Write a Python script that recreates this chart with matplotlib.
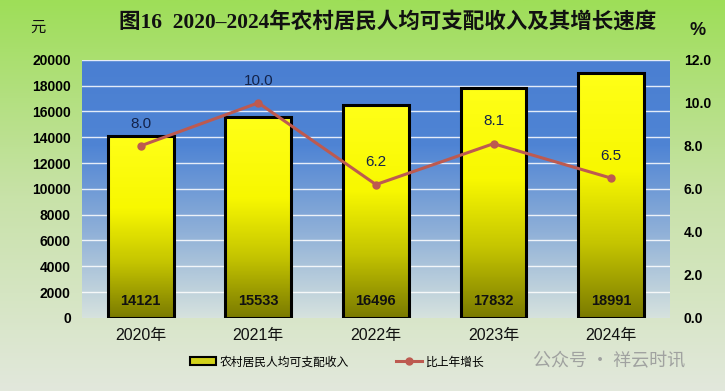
import matplotlib
matplotlib.use("Agg")
import matplotlib.pyplot as plt
import numpy as np
from matplotlib.colors import LinearSegmentedColormap
from matplotlib.patches import Patch
from matplotlib.lines import Line2D

plt.rcParams['font.family'] = ['Liberation Sans', 'Noto Sans CJK SC', 'DejaVu Sans']

years = ["2020年", "2021年", "2022年", "2023年", "2024年"]
income = [14121, 15533, 16496, 17832, 18991]
growth = [8.0, 10.0, 6.2, 8.1, 6.5]

fig = plt.figure(figsize=(7.25, 3.91), dpi=100)

# figure background gradient (green top -> pale bottom)
bg = fig.add_axes([0, 0, 1, 1], zorder=-10)
bg_cmap = LinearSegmentedColormap.from_list("bg", ["#e2e8dc", "#c8e2a8", "#9ede58"])
bg.imshow(np.linspace(0, 1, 256).reshape(-1, 1), cmap=bg_cmap, aspect="auto",
          extent=[0, 1, 0, 1], origin="lower")
bg.axis("off")

ax = fig.add_axes([0.113, 0.187, 0.811, 0.66])
ax.set_facecolor("none")
plot_cmap = LinearSegmentedColormap.from_list("pa", ["#d6e2de", "#8fb0d8", "#4f84d4", "#4a7fd2"])
ax.imshow(np.linspace(0, 1, 256).reshape(-1, 1), cmap=plot_cmap, aspect="auto",
          extent=[0, 1, 0, 1], origin="lower", transform=ax.transAxes, zorder=0)

x = np.arange(len(years))
for yv in np.arange(2000, 20001, 2000):
    ax.axhline(yv, color="white", lw=1, alpha=0.85, zorder=1)

bar_cmap = LinearSegmentedColormap.from_list(
    "bar", [(0, "#7a7a00"), (0.3, "#c4c400"), (0.6, "#f8f800"), (1, "#ffff18")])
bars = ax.bar(x, income, width=0.56, facecolor="none", edgecolor="black", lw=2.2, zorder=3)
for b, v in zip(bars, income):
    im = ax.imshow(np.linspace(0, 1, 256).reshape(-1, 1), cmap=bar_cmap, aspect="auto",
                   extent=[b.get_x(), b.get_x() + b.get_width(), 0, v], origin="lower", zorder=2)
    im.set_clip_path(b)
    ax.text(b.get_x() + b.get_width() / 2, 1300, str(v), ha="center", va="center",
            fontsize=10.5, fontweight="bold", color="#111111", zorder=4)
ax.set_xlim(-0.5, len(years) - 0.5)
ax.set_ylim(0, 20000)
ax.set_yticks(np.arange(0, 20001, 2000))

ax.set_xticks(x)
ax.set_xticklabels(years, fontsize=11.5, color="#111111")
ax.tick_params(axis="both", length=0)
ax.tick_params(axis="x", pad=7)
ax.tick_params(axis="y", pad=8)
for lab in ax.get_yticklabels():
    lab.set_fontweight("bold")
    lab.set_fontsize(10)
for s in ax.spines.values():
    s.set_visible(False)

ax2 = ax.twinx()
ax2.set_ylim(0, 12)
ax2.set_yticks(np.arange(0, 12.1, 2))
ax2.set_yticklabels([f"{v:.1f}" for v in np.arange(0, 12.1, 2)], fontsize=10, fontweight="bold")
ax2.tick_params(axis="y", length=0, pad=10)
for s in ax2.spines.values():
    s.set_visible(False)
ax2.plot(x, growth, color="#bd5a50", lw=2.2, marker="o", ms=5, zorder=5)
for xi, g in zip(x, growth):
    ax2.annotate(f"{g:.1f}", (xi, g), xytext=(0, 16), textcoords="offset points",
                 ha="center", va="center", fontsize=11, color="#13234a")

fig.text(0.535, 0.944, "图16  2020–2024年农村居民人均可支配收入及其增长速度",
         ha="center", va="center", fontsize=15.5, fontweight="bold",
         family=["Liberation Serif", "Noto Sans CJK SC"], color="#111111")
fig.text(0.052, 0.93, "元", ha="center", va="center", fontsize=11,
         family=["Noto Sans CJK SC"], color="#111111")
fig.text(0.962, 0.922, "%", ha="center", va="center", fontsize=13, fontweight="bold",
         color="#111111")

handles = [Patch(facecolor="#d2d21a", edgecolor="black", lw=1.5),
           Line2D([0], [0], color="#bd5a50", lw=2.2, marker="o", ms=5)]
fig.legend(handles, ["农村居民人均可支配收入", "比上年增长"], loc="center",
           bbox_to_anchor=(0.465, 0.073), ncol=2, frameon=False, fontsize=8.5,
           columnspacing=4, handlelength=2.2, handletextpad=0.3)

fig.text(0.84, 0.075, "公众号 · 祥云时讯", ha="center", va="center", fontsize=13,
         color="#a0a2a0", family=["Noto Sans CJK SC"])

fig.savefig("out.png", dpi=100)
